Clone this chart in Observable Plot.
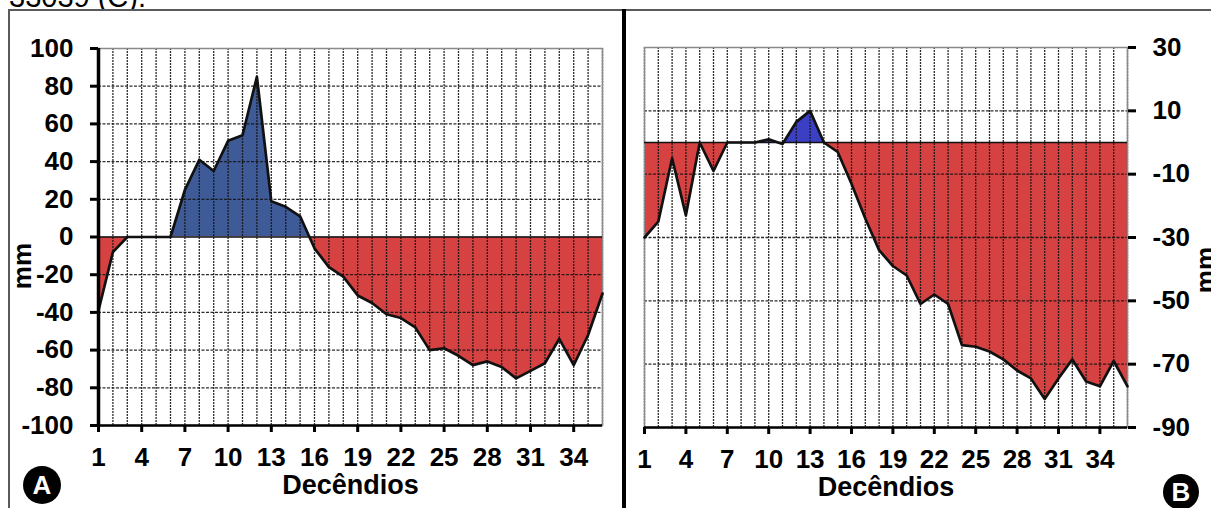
<!DOCTYPE html>
<html>
<head>
<meta charset="utf-8">
<script src="https://cdn.jsdelivr.net/npm/d3@7"></script>
<script src="https://cdn.jsdelivr.net/npm/@observablehq/plot@0.6"></script>
<style>
  html, body { margin: 0; padding: 0; background: #fff; }
  #wrap { position: relative; width: 1211px; height: 508px; overflow: hidden; background: #fff;
          font-family: "Liberation Sans", Arial, sans-serif; }
  .abs { position: absolute; }
  .badge { position: absolute; border-radius: 50%; background: #000; color: #fff; font-weight: bold;
           font-size: 26px; display: flex; align-items: center; justify-content: center; }
  .ylab { position: absolute; font-size: 26px; font-weight: bold; line-height: 26px; white-space: nowrap;
          color: #000; transform: translate(-50%, -50%) rotate(-90deg); }
</style>
</head>
<body>
<div id="wrap"></div>
<script>
// ---- data ----
const decendios = d3.range(1, 37);
const xTicks = [1, 4, 7, 10, 13, 16, 19, 22, 25, 28, 31, 34];
const valuesA = [-39, -8, 0, 0, 0, 0, 25, 41, 35, 51, 54, 85, 19, 16, 11, -6, -16, -21, -31, -35, -41, -43, -48, -60, -59, -63, -68, -66, -69, -75, -71, -67, -54, -68, -52, -30];
const valuesB = [-30, -25, -5, -23, 0, -9, 0, 0, 0, 1, -0.5, 6.5, 10, 0, -3, -13, -24, -34, -39, -42, -51, -48, -51, -64, -64.5, -66, -68.5, -72, -74.5, -81, -74.5, -68.5, -75.5, -77, -69, -77];
const yTicksA = [-100, -80, -60, -40, -20, 0, 20, 40, 60, 80, 100];
const yTicksB = [30, 10, -10, -30, -50, -70, -90];
const xLabel = "Decêndios";
const yLabel = "mm";

const dataA = decendios.map((d, i) => ({d, v: valuesA[i]}));
const dataB = decendios.map((d, i) => ({d, v: valuesB[i]}));

const FONT = '"Liberation Sans", Arial, sans-serif';
const RED = "#d64242";

let clipCount = 0;
function clipSide(side) {
  return function(index, scales, values, dimensions, context, next) {
    const g = next(index, scales, values, dimensions, context);
    const y0 = scales.y(0);
    const id = "zclip" + (++clipCount);
    const wrap = d3.create("svg:g");
    wrap.append("clipPath").attr("id", id).append("rect")
      .attr("x", 0).attr("width", dimensions.width)
      .attr("y", side === "above" ? 0 : y0)
      .attr("height", side === "above" ? y0 : dimensions.height - y0);
    wrap.attr("clip-path", `url(#${id})`);
    wrap.node().append(g);
    return wrap.node();
  };
}

function panel(data, opts) {
  const {width, mT, mB, mL, mR, yDomain, yTicks, yAnchor, blue} = opts;
  const gridY = yTicks.filter(t => t !== yDomain[0] && t !== yDomain[1] && t !== 0);
  return Plot.plot({
    width, height: 508,
    marginTop: mT, marginBottom: mB, marginLeft: mL, marginRight: mR,
    x: {domain: [1, 36]},
    y: {domain: yDomain},
    style: {background: "transparent", fontFamily: FONT, fontSize: "26px", fontWeight: "bold", color: "#000", overflow: "visible"},
    marks: [
      Plot.areaY(data, {x: "d", y1: 0, y2: "v", fill: blue, render: clipSide("above")}),
      Plot.areaY(data, {x: "d", y1: 0, y2: "v", fill: RED, render: clipSide("below")}),
      Plot.ruleX(decendios, {stroke: "#151515", strokeWidth: 1.3, strokeDasharray: "2,1", strokeOpacity: 0.9}),
      Plot.ruleY(gridY, {stroke: "#151515", strokeWidth: 1.3, strokeDasharray: "3,1.5", strokeOpacity: 0.9}),
      Plot.frame({stroke: "#8a8a8a", strokeWidth: 1.5}),
      Plot.ruleY([0], {stroke: "#111", strokeWidth: 1.5}),
      Plot.line(data, {x: "d", y: "v", stroke: "#111", strokeWidth: 2.7}),
      Plot.ruleY([yDomain[0]], {stroke: "#000", strokeWidth: 2.5}),
      ...(yAnchor === "left" ? [Plot.ruleX([1], {stroke: "#000", strokeWidth: 3.5})] : []),
      Plot.axisY(yTicks, {anchor: yAnchor, tickSize: 8, tickPadding: 17, textAnchor: yAnchor === "left" ? "end" : "start", strokeWidth: 3, label: null, tickFormat: d => `${d}`}),
      Plot.axisX(xTicks, {anchor: "bottom", tickSize: 7, tickPadding: 15, strokeWidth: 3, label: null, tickFormat: d => `${d}`}),
      Plot.text([xLabel], {frameAnchor: "bottom", dy: 68, fontSize: 27, fontWeight: "bold", fill: "#000"})
    ]
  });
}

const wrap = document.getElementById("wrap");

const plotA = panel(dataA, {width: 612, mT: 48, mB: 83, mL: 98, mR: 10, yDomain: [-100, 100], yTicks: yTicksA, yAnchor: "left", blue: "#3e5a97"});
plotA.classList.add("abs");
plotA.style.left = "0px"; plotA.style.top = "0px";
wrap.appendChild(plotA);

const plotB = panel(dataB, {width: 581, mT: 47, mB: 81, mL: 14, mR: 84, yDomain: [-90, 30], yTicks: yTicksB, yAnchor: "right", blue: "#3b3fc4"});
plotB.classList.add("abs");
plotB.style.left = "630px"; plotB.style.top = "0px";
wrap.appendChild(plotB);

// y axis titles
function ylab(cx, cy) {
  const t = document.createElement("div");
  t.className = "ylab";
  t.style.left = cx + "px"; t.style.top = cy + "px";
  t.textContent = yLabel;
  wrap.appendChild(t);
}
ylab(22, 266);
ylab(1205, 270);

// cropped caption from the source page above the figure
const cap = document.createElement("div");
cap.className = "abs";
cap.style.cssText = "left:0;top:0;width:400px;height:9px;overflow:hidden;";
cap.innerHTML = '<div style="position:absolute;left:9px;top:-17.5px;font-size:29px;line-height:29px;white-space:nowrap;color:#000;">33039 (C).</div>';
wrap.appendChild(cap);

// figure borders
function box(css) { const d = document.createElement("div"); d.className = "abs"; d.style.cssText = css; wrap.appendChild(d); }
box("left:8px;top:9px;width:1203px;height:1.5px;background:#5a5a5a;");
box("left:8px;top:9px;width:1.5px;height:499px;background:#5a5a5a;");
box("left:622px;top:9px;width:4px;height:499px;background:#000;");

// panel badges
function badge(letter, cx, cy, r) {
  const b = document.createElement("div");
  b.className = "badge";
  b.style.left = (cx - r) + "px"; b.style.top = (cy - r) + "px";
  b.style.width = (2 * r) + "px"; b.style.height = (2 * r) + "px";
  b.textContent = letter;
  wrap.appendChild(b);
}
badge("A", 42, 485, 19);
badge("B", 1181, 492, 18);
</script>
</body>
</html>
